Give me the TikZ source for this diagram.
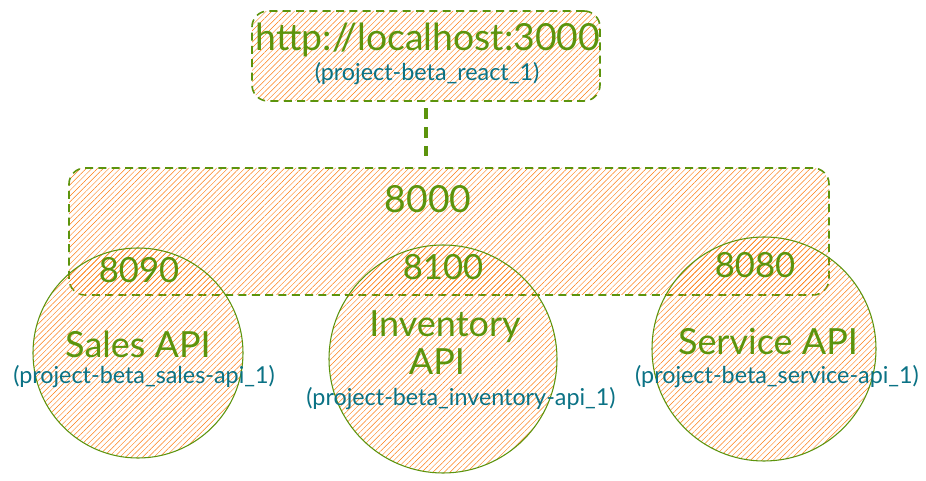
\documentclass[tikz,border=0pt]{standalone}
\usepackage{fontspec}
\setmainfont{Lato}
\usepackage{tikz}
\usetikzlibrary{patterns.meta}
\definecolor{strokegreen}{RGB}{92,148,13}
\definecolor{hatchorange}{RGB}{253,126,20}
\definecolor{subteal}{RGB}{11,114,133}

\begin{document}
\begin{tikzpicture}[x=0.75pt,y=0.75pt,yscale=-1,xscale=1,
  hatch/.style={pattern={Lines[angle=45,distance=3pt,line width=0.35pt]},pattern color=hatchorange},
  dashbox/.style={hatch,draw=strokegreen,line width=1.2pt,dash pattern=on 6pt off 4pt,rounded corners=12pt,inner sep=0pt},
  apicircle/.style={hatch,draw=strokegreen,line width=0.8pt,circle,inner sep=0pt},
  bigtxt/.style={text=strokegreen,font=\fontsize{26}{26}\selectfont,inner sep=0pt,anchor=base},
  titletxt/.style={bigtxt,font=\fontsize{27}{27}\selectfont},
  subtxt/.style={text=subteal,font=\fontsize{17.5}{17.5}\selectfont,inner sep=0pt,anchor=base},
  link/.style={draw=strokegreen,line width=3pt,dash pattern=on 8pt off 6pt}]
\useasboundingbox (0,0) rectangle (926,481);

%Gateway box
\node [dashbox, minimum width=570pt, minimum height=95.25pt] (gateway) at (449,231.5) {};
%API circles
\node [apicircle, minimum size=157.5pt] (sales) at (138,353) {};
\node [apicircle, minimum size=171pt] (inventory) at (443,359) {};
\node [apicircle, minimum size=168pt] (service) at (764,349) {};
%Frontend box
\node [dashbox, minimum width=261pt, minimum height=67.5pt] (react) at (426,56) {};

%Dashed link
\draw [link, shorten <=5pt, shorten >=6pt] (react.south) -- (react.south |- gateway.north);

% Text Node
\node [bigtxt, font=\fontsize{28}{28}\selectfont] (reacturl) at (428,51) {http://localhost:3000};
\node [subtxt] (reactname) at (427,81) {(project-beta\_react\_1)};
% Text Node
\node [bigtxt, font=\fontsize{28}{28}\selectfont] (gatewayport) at (428,213) {8000};
% Text Node
\node [bigtxt] (salesport) at (139,283) {8090};
\node [titletxt] (salestitle) at (138,358) {Sales API};
\node [subtxt] (salesname) at (144,383) {(project-beta\_sales-api\_1)};
% Text Node
\node [bigtxt] (inventoryport) at (443,280) {8100};
\node [titletxt] (inventorytitle) at (445,337) {Inventory};
\node [titletxt] (inventoryapi) at (437,375) {API};
\node [subtxt] (inventoryname) at (461,406) {(project-beta\_inventory-api\_1)};
% Text Node
\node [bigtxt] (serviceport) at (755,278) {8080};
\node [titletxt] (servicetitle) at (768,355) {Service API};
\node [subtxt] (servicename) at (777,383) {(project-beta\_service-api\_1)};

\end{tikzpicture}
\end{document}
